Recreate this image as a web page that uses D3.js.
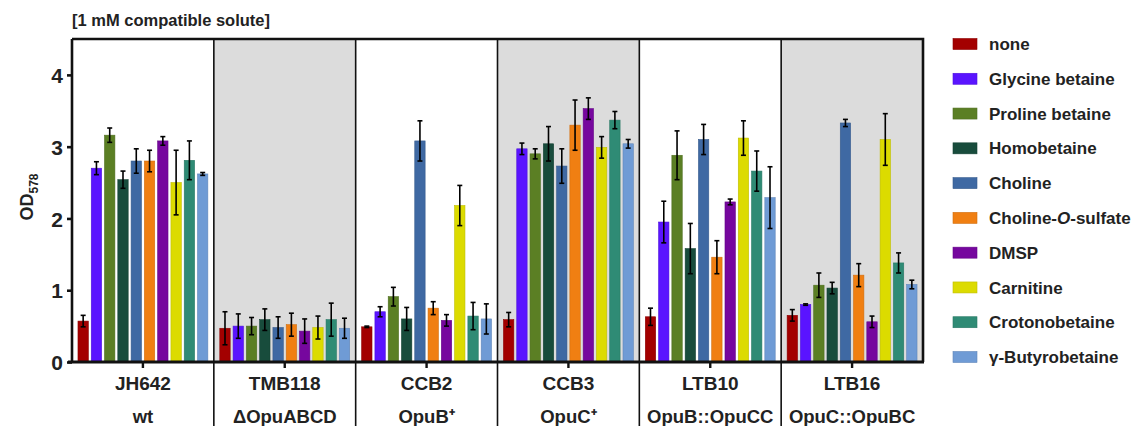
<!DOCTYPE html>
<html><head><meta charset="utf-8">
<script src="https://cdn.jsdelivr.net/npm/d3@7"></script>
<style>body{margin:0;background:#fff}svg{display:block;font-family:"Liberation Sans",Arial,sans-serif;font-weight:bold}</style>
</head><body><svg id="c" width="1134" height="426"></svg>
<script>
const strains = ["JH642","TMB118","CCB2","CCB3","LTB10","LTB16"];
const genotypes = ["wt","\u0394OpuABCD","OpuB\u207A","OpuC\u207A","OpuB::OpuCC","OpuC::OpuBC"];
const solutes = ["none","Glycine betaine","Proline betaine","Homobetaine","Choline","Choline-O-sulfate","DMSP","Carnitine","Crotonobetaine","\u03B3-Butyrobetaine"];
const colors = ["#a30000","#5a14ff","#5b7f24","#184c3c","#3f69a3","#f07f12","#76079e","#dcdb00","#2f8b75","#6f9bd5"];
// mean OD578 per strain (rows) and solute (columns)
const means = [
  [0.57,2.70,3.16,2.54,2.80,2.80,3.08,2.50,2.81,2.62],
  [0.47,0.50,0.50,0.59,0.48,0.52,0.43,0.48,0.59,0.47],
  [0.49,0.70,0.91,0.60,3.08,0.75,0.58,2.18,0.64,0.60],
  [0.59,2.97,2.90,3.04,2.73,3.30,3.53,2.99,3.37,3.04],
  [0.63,1.95,2.88,1.58,3.10,1.46,2.23,3.12,2.66,2.29],
  [0.65,0.80,1.07,1.03,3.33,1.21,0.56,3.10,1.38,1.08]
];
const errors = [
  [0.08,0.09,0.10,0.12,0.17,0.15,0.06,0.45,0.27,0.02],
  [0.23,0.17,0.12,0.15,0.15,0.16,0.17,0.16,0.23,0.14],
  [0.01,0.07,0.13,0.16,0.28,0.09,0.08,0.28,0.19,0.21],
  [0.10,0.08,0.07,0.24,0.24,0.35,0.15,0.15,0.12,0.06],
  [0.12,0.29,0.34,0.35,0.21,0.23,0.04,0.24,0.28,0.43],
  [0.08,0.01,0.17,0.08,0.05,0.16,0.08,0.36,0.14,0.06]
];
const yTicks = [0,1,2,3,4];

const svg = d3.select("#c");
const L = 72, R = 923, T = 39, B = 362;
const x0 = d3.scaleBand().domain(strains).range([L, R]);
const x1 = d3.scaleBand().domain(solutes).range([0, x0.bandwidth()]).paddingInner(0.22).paddingOuter(0.45);
const y = d3.scaleLinear().domain([0, 4.5]).range([B, T]);

// shaded panels
svg.selectAll("rect.bg").data(strains).join("rect")
  .attr("x", d => x0(d)).attr("y", T).attr("width", x0.bandwidth()).attr("height", B - T)
  .attr("fill", (d,i) => i % 2 ? "#dcdcdc" : "#ffffff");

// bars
const groups = svg.selectAll("g.grp").data(strains).join("g")
  .attr("transform", d => `translate(${x0(d)},0)`);
groups.each(function(s, i) {
  const g = d3.select(this);
  const rows = solutes.map((name, j) => ({name, j, v: means[i][j], e: errors[i][j]}));
  g.selectAll("rect").data(rows).join("rect")
    .attr("x", d => x1(d.name)).attr("width", x1.bandwidth())
    .attr("y", d => y(d.v)).attr("height", d => y(0) - y(d.v))
    .attr("fill", d => colors[d.j])
    .attr("stroke", d => d3.color(colors[d.j]).darker(0.4)).attr("stroke-width", 0.6);
  const eb = g.selectAll("g.eb").data(rows).join("g")
    .attr("stroke", "#000").attr("stroke-width", 1.6);
  eb.append("line")
    .attr("x1", d => x1(d.name) + x1.bandwidth()/2).attr("x2", d => x1(d.name) + x1.bandwidth()/2)
    .attr("y1", d => y(d.v + d.e)).attr("y2", d => y(Math.max(0, d.v - d.e)));
  [1, -1].forEach(sg => {
    eb.append("line")
      .attr("x1", d => x1(d.name) + x1.bandwidth()/2 - 2.5).attr("x2", d => x1(d.name) + x1.bandwidth()/2 + 2.5)
      .attr("y1", d => y(d.v + sg*d.e)).attr("y2", d => y(d.v + sg*d.e));
  });
});

// panel dividers
svg.selectAll("line.div").data(strains.slice(1)).join("line")
  .attr("x1", d => x0(d)).attr("x2", d => x0(d)).attr("y1", T).attr("y2", 426)
  .attr("stroke", "#111").attr("stroke-width", 1.6);

// frame top and right
svg.append("path").attr("d", `M${L},${T}H${R}V${B}`).attr("fill", "none")
  .attr("stroke", "#111").attr("stroke-width", 2.6);

// y axis
const ya = svg.append("g").attr("transform", `translate(${L},0)`)
  .call(d3.axisLeft(y).tickValues(yTicks).tickFormat(d3.format("d")).tickSize(5).tickPadding(4));
ya.select(".domain").attr("stroke", "#111").attr("stroke-width", 2.6).attr("d", `M0,${T}V${B}`);
ya.selectAll(".tick line").attr("stroke", "#111").attr("stroke-width", 2.6);
ya.selectAll(".tick text").attr("font-size", 21).attr("font-weight", "bold").attr("fill", "#222")
  .attr("font-family", "Liberation Sans, Arial, sans-serif").attr("dy", "0.36em");

// x axis
const xa = svg.append("g").attr("transform", `translate(0,${B})`)
  .call(d3.axisBottom(x0).tickSize(6).tickFormat(""));
xa.select(".domain").attr("stroke", "#111").attr("stroke-width", 3).attr("d", `M${L-4},0H${R+1}`);
xa.selectAll(".tick line").attr("stroke", "#111").attr("stroke-width", 2.4);

// strain labels
svg.selectAll("text.st").data(strains).join("text")
  .attr("x", d => x0(d) + x0.bandwidth()/2).attr("y", 390)
  .attr("text-anchor", "middle").attr("font-size", 19).attr("fill", "#222").text(d => d);
svg.selectAll("text.gt").data(strains).join("text")
  .attr("x", d => x0(d) + x0.bandwidth()/2).attr("y", 423)
  .attr("text-anchor", "middle").attr("font-size", 18.5).attr("fill", "#222")
  .text((d, i) => genotypes[i]);

// title
svg.append("text").attr("x", 72).attr("y", 26).attr("font-size", 16.5).attr("fill", "#222")
  .text("[1 mM compatible solute]");

// y label
const yl = svg.append("text").attr("transform", "translate(33,197) rotate(-90)")
  .attr("text-anchor", "middle").attr("font-size", 18).attr("fill", "#222");
yl.append("tspan").text("OD");
yl.append("tspan").attr("font-size", 12).attr("dy", 5).text("578");

// legend
const ly = d3.scalePoint().domain(solutes).range([44, 357]);
const lg = svg.selectAll("g.lg").data(solutes).join("g")
  .attr("transform", d => `translate(953,${ly(d)})`);
lg.append("rect").attr("x", 0).attr("y", -5.5).attr("width", 24).attr("height", 11)
  .attr("fill", (d, i) => colors[i]).attr("stroke", (d, i) => d3.color(colors[i]).darker(0.4)).attr("stroke-width", 0.6);
lg.append("text").attr("x", 36).attr("y", 0).attr("dy", "0.36em").attr("font-size", 17).attr("fill", "#222")
  .each(function(d) {
    const t = d3.select(this);
    if (d === "Choline-O-sulfate") {
      t.append("tspan").text("Choline-");
      t.append("tspan").attr("font-style", "italic").text("O");
      t.append("tspan").text("-sulfate");
    } else t.text(d);
  });
</script></body></html>
